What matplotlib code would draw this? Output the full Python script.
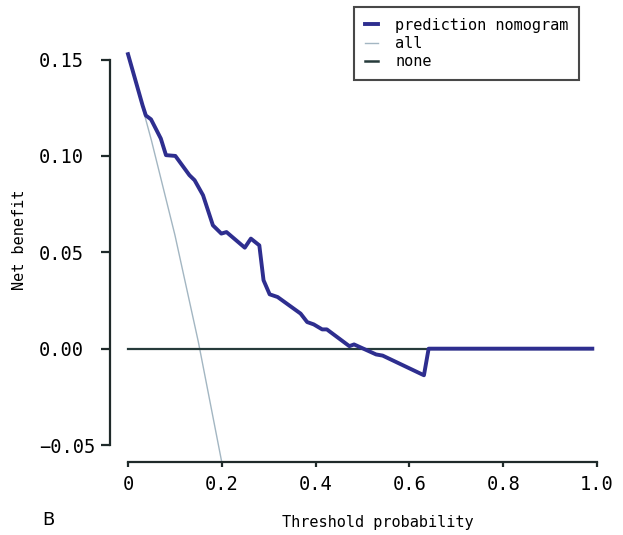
import matplotlib
matplotlib.use("Agg")
import matplotlib.pyplot as plt
from matplotlib.lines import Line2D

# Data
thr_nomogram = [0.000, 0.031, 0.038, 0.049, 0.070, 0.081, 0.101, 0.131, 0.142, 0.160,
                0.181, 0.199, 0.210, 0.249, 0.262, 0.280, 0.289, 0.302, 0.319, 0.368,
                0.382, 0.396, 0.414, 0.424, 0.472, 0.482, 0.529, 0.543, 0.631, 0.641, 0.990]
nb_nomogram = [0.1528, 0.1263, 0.1210, 0.1190, 0.1090, 0.1004, 0.1000, 0.0900, 0.0874, 0.0796,
               0.0640, 0.0597, 0.0605, 0.0524, 0.0571, 0.0536, 0.0355, 0.0282, 0.0268, 0.0182,
               0.0138, 0.0126, 0.0100, 0.0100, 0.0013, 0.0022, -0.0030, -0.0036, -0.0138, 0.0000, 0.0000]

thr_all = [0.00, 0.05, 0.10, 0.15, 0.20, 0.21]
nb_all = [0.153, 0.108, 0.059, 0.0035, -0.059, -0.072]

thr_none = [0.0, 0.99]
nb_none = [0.0, 0.0]

xticks = [0, 0.2, 0.4, 0.6, 0.8, 1.0]
xticklabels = ["0", "0.2", "0.4", "0.6", "0.8", "1.0"]
yticks = [-0.05, 0.00, 0.05, 0.10, 0.15]
yticklabels = ["\u22120.05", "0.00", "0.05", "0.10", "0.15"]

c_nomo = "#2e2e8f"
c_all = "#a3b6c2"
c_none = "#263b3b"
c_axis = "#1f2a2a"
mono = "DejaVu Sans Mono"

fig = plt.figure(figsize=(6.23, 5.35), dpi=100)
ax = fig.add_axes([110 / 623, 1 - 462 / 535, 506 / 623, (462 - 34.5) / 535])

ax.plot(thr_all, nb_all, color=c_all, lw=1.0, zorder=2)
ax.plot(thr_none, nb_none, color=c_none, lw=1.6, zorder=3)
ax.plot(thr_nomogram, nb_nomogram, color=c_nomo, lw=2.8, zorder=4,
        solid_joinstyle="round")

ax.set_xlim(-18 / 469, 1 + 19 / 469)
ax.set_ylim(-0.0588, 0.163)

for s in ["top", "right"]:
    ax.spines[s].set_visible(False)
ax.spines["left"].set_bounds(-0.05, 0.15)
ax.spines["bottom"].set_bounds(0, 1.0)
for s in ["left", "bottom"]:
    ax.spines[s].set_color(c_axis)
    ax.spines[s].set_linewidth(1.6)

ax.set_xticks(xticks)
ax.set_xticklabels(xticklabels, family=mono, fontsize=13.5)
ax.set_yticks(yticks)
ax.set_yticklabels(yticklabels, family=mono, fontsize=13.5)
ax.tick_params(axis="both", direction="out", width=1.6,
               color=c_axis, labelcolor="black")
ax.tick_params(axis="x", length=3.6, pad=5.5)
ax.tick_params(axis="y", length=6.5, pad=44.6)
for lab in ax.get_yticklabels():
    lab.set_horizontalalignment("left")

fig.text(0.607, 1 - 523 / 535, "Threshold probability", family=mono,
         fontsize=11, ha="center", va="center")
fig.text(20 / 623, 1 - 240 / 535, "Net benefit", family=mono,
         fontsize=11, ha="center", va="center", rotation=90)
fig.text(48 / 623, 1 - 520 / 535, "B", fontsize=13, ha="center", va="center")

handles = [Line2D([], [], color=c_nomo, lw=2.8),
           Line2D([], [], color=c_all, lw=1.0),
           Line2D([], [], color=c_none, lw=1.8)]
leg = fig.legend(handles, ["prediction nomogram", "all", "none"],
                 loc="upper left", bbox_to_anchor=(354 / 623, 1 - 7 / 535),
                 prop={"family": mono, "size": 11}, frameon=True,
                 fancybox=False, handlelength=0.9, handletextpad=1.1,
                 labelspacing=0.22, borderpad=0.7, borderaxespad=0)
leg.get_frame().set_edgecolor("#1a1a1a")
leg.get_frame().set_linewidth(1.5)

fig.savefig("out.png", dpi=100)
